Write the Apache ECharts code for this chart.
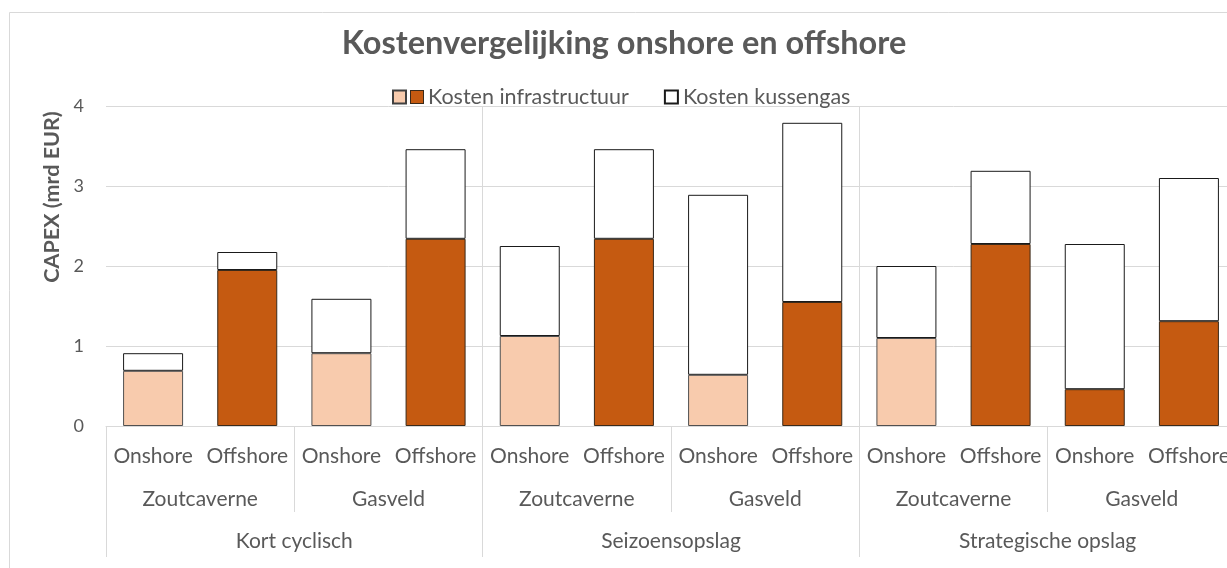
<!DOCTYPE html>
<html>
<head>
<meta charset="utf-8">
<script src="https://cdn.jsdelivr.net/npm/echarts@6/dist/echarts.min.js"></script>
<style>html,body{margin:0;padding:0;background:#fff;overflow:hidden}#c{width:1260px;height:568px}</style>
</head>
<body>
<div id="c"></div>
<script>
const subCats = ['Onshore','Offshore','Onshore','Offshore','Onshore','Offshore','Onshore','Offshore','Onshore','Offshore','Onshore','Offshore'];
const midCats = ['Zoutcaverne','Gasveld','Zoutcaverne','Gasveld','Zoutcaverne','Gasveld'];
const topCats = ['Kort cyclisch','Seizoensopslag','Strategische opslag'];
const infra =     [0.69, 1.95, 0.91, 2.34, 1.125, 2.34, 0.64, 1.55, 1.10, 2.275, 0.46, 1.31];
const kussengas = [0.22, 0.225, 0.68, 1.12, 1.125, 1.12, 2.25, 2.24, 0.90, 0.915, 1.815, 1.79];
const infraShade = ['light','dark','light','dark','light','dark','light','dark','light','dark','dark','dark'];
const yTicks = [0, 1, 2, 3, 4];

const LIGHT = '#F8CBAD', DARK = '#C55A11';
const FONT = 'Lato';
const TXT = '#595959';
const GRIDC = '#d9d9d9';

const chart = echarts.init(document.getElementById('c'));
chart.setOption({
  backgroundColor: '#fff',
  animation: false,
  textStyle: { fontFamily: FONT },
  graphic: [{
    type: 'rect', silent: true,
    shape: { x: 9.5, y: 12.5, width: 1400, height: 800 },
    style: { fill: 'none', stroke: GRIDC, lineWidth: 1 }
  }],
  title: {
    text: 'Kostenvergelijking onshore en offshore',
    left: 619, top: 22, textAlign: 'center',
    textStyle: { fontFamily: FONT, fontWeight: 'bold', fontSize: 32.5, color: TXT }
  },
  legend: {
    left: 387, top: 81,
    itemWidth: 13, itemHeight: 13, itemGap: 35,
    icon: 'rect',
    data: ['Kosten infrastructuur', 'Kosten kussengas'],
    formatter: n => n === 'Kosten infrastructuur' ? '{d|}{g|}' + n : n,
    textStyle: {
      fontFamily: FONT, fontSize: 21.5, color: TXT,
      rich: {
        d: { width: 12, height: 12, backgroundColor: DARK, borderColor: '#3a2a1a', borderWidth: 1 },
        g: { width: 5 }
      }
    }
  },
  grid: { left: 106, top: 106, width: 1130, height: 320, containLabel: false },
  yAxis: {
    type: 'value', min: yTicks[0], max: yTicks[yTicks.length - 1], interval: 1,
    name: 'CAPEX (mrd EUR)', nameLocation: 'middle', nameGap: 40, nameRotate: 90,
    nameTextStyle: { fontFamily: FONT, fontWeight: 'bold', fontSize: 21.5, color: TXT, padding: [0, 0, 0, 138] },
    axisLine: { show: false }, axisTick: { show: false },
    axisLabel: { fontFamily: FONT, fontSize: 18, color: TXT, margin: 22 },
    splitLine: { lineStyle: { color: GRIDC, width: 1 } }
  },
  xAxis: [
    {
      type: 'category', data: subCats, position: 'bottom',
      axisLine: { show: true, lineStyle: { color: GRIDC, width: 1 } },
      axisTick: { show: false },
      axisLabel: { fontFamily: FONT, fontSize: 21, color: TXT, margin: 20, interval: 0 },
      splitLine: { show: false }
    },
    {
      type: 'category', data: midCats, position: 'bottom',
      axisLine: { show: false },
      axisTick: { show: true, length: 86, lineStyle: { color: GRIDC } },
      axisLabel: { fontFamily: FONT, fontSize: 21, color: TXT, margin: 63, interval: 0 },
      splitLine: { show: false }
    },
    {
      type: 'category', data: topCats, position: 'bottom',
      axisLine: { show: false },
      axisTick: { show: true, length: 131, lineStyle: { color: GRIDC } },
      axisLabel: { fontFamily: FONT, fontSize: 21, color: TXT, margin: 105, interval: 0 },
      splitLine: { show: true, interval: (i) => i > 0, lineStyle: { color: GRIDC, width: 1 } }
    }
  ],
  series: [
    {
      name: 'Kosten infrastructuur', type: 'bar', stack: 'a', xAxisIndex: 0,
      barWidth: 60,
      itemStyle: { color: LIGHT, borderColor: '#404040', borderWidth: 1 },
      data: infra.map((v, i) => ({
        value: v,
        itemStyle: infraShade[i] === 'dark'
          ? { color: DARK, borderColor: '#3a2a1a' }
          : { color: LIGHT, borderColor: '#505050' }
      }))
    },
    {
      name: 'Kosten kussengas', type: 'bar', stack: 'a', xAxisIndex: 0,
      barWidth: 60,
      itemStyle: { color: '#ffffff', borderColor: '#1a1a1a', borderWidth: 1 },
      data: kussengas
    }
  ]
});
</script>
</body>
</html>
